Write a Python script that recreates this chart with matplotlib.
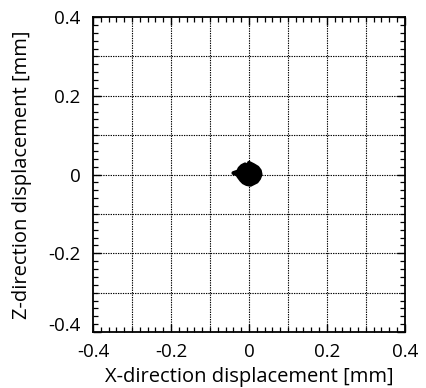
import matplotlib
matplotlib.use("Agg")
import matplotlib.pyplot as plt
from matplotlib.ticker import MultipleLocator
import matplotlib.transforms as mtransforms

# trajectory of displacement (mm)
x_disp = [0.000, 0.012, 0.022, 0.028, 0.030, 0.026, 0.020, 0.012, 0.004, -0.006,
          -0.014, -0.020, -0.026, -0.030, -0.040, -0.028, -0.024, -0.018, -0.010, 0.000,
          0.010, 0.018, 0.022, 0.024, 0.018, 0.008, -0.002, -0.012, -0.018, -0.022,
          -0.016, -0.006, 0.004, 0.012, 0.016, 0.012, 0.004, -0.004, -0.010, -0.008,
          0.000, 0.006, 0.010, 0.005, -0.002]
z_disp = [0.030, 0.024, 0.018, 0.010, 0.000, -0.010, -0.018, -0.022, -0.026, -0.024,
          -0.020, -0.014, -0.006, 0.000, 0.004, 0.008, 0.016, 0.022, 0.026, 0.022,
          0.020, 0.012, 0.004, -0.006, -0.014, -0.018, -0.016, -0.012, -0.006, 0.004,
          0.012, 0.018, 0.014, 0.006, -0.004, -0.010, -0.014, -0.008, 0.000, 0.008,
          0.010, 0.004, -0.004, -0.006, 0.002]

xticks = [-0.4, -0.2, 0, 0.2, 0.4]
yticks = [-0.4, -0.2, 0, 0.2, 0.4]
xticklabels = ["-0.4", "-0.2", "0", "0.2", "0.4"]
yticklabels = ["-0.4", "-0.2", "0", "0.2", "0.4"]

plt.rcParams['font.family'] = ['Open Sans', 'DejaVu Sans']
fig = plt.figure(figsize=(4.27, 3.88), dpi=100)
ax = fig.add_axes([0.218, 0.144, 0.730, 0.812])

ax.plot(x_disp, z_disp, color='black', lw=2.8, solid_capstyle='round', solid_joinstyle='round')
ax.fill(x_disp, z_disp, color='black')

ax.set_xlim(-0.4, 0.4)
ax.set_ylim(-0.4, 0.4)
ax.set_xticks(xticks)
ax.set_xticklabels(xticklabels)
ax.set_yticks(yticks)
ax.set_yticklabels(yticklabels)
ax.xaxis.set_minor_locator(MultipleLocator(0.02))
ax.yaxis.set_minor_locator(MultipleLocator(0.02))
ax.tick_params(which='both', direction='in', top=True, right=True, color='black')
ax.tick_params(which='major', length=6, width=1, labelsize=13.5)
ax.tick_params(axis='x', which='major', pad=8)
ax.tick_params(axis='y', which='major', pad=9)
ax.tick_params(which='minor', length=3.5, width=0.9)

# nudge the bottom y tick label up, as in the reference
lbl = ax.get_yticklabels()[0]
lbl.set_transform(lbl.get_transform() + mtransforms.ScaledTranslation(0, 6/72, fig.dpi_scale_trans))

grid_pos = [-0.3, -0.2, -0.1, 0, 0.1, 0.2, 0.3]
for g in grid_pos:
    ax.axvline(g, color='black', lw=0.8, ls=(0, (1.2, 1.0)), zorder=0)
    ax.axhline(g, color='black', lw=0.8, ls=(0, (1.2, 1.0)), zorder=0)

for s in ax.spines.values():
    s.set_linewidth(1.3)

ax.set_xlabel("X-direction displacement [mm]", fontsize=14.5, labelpad=4)
ax.set_ylabel("Z-direction displacement [mm]", fontsize=14.5, labelpad=12)

fig.savefig("out.png", dpi=100)
